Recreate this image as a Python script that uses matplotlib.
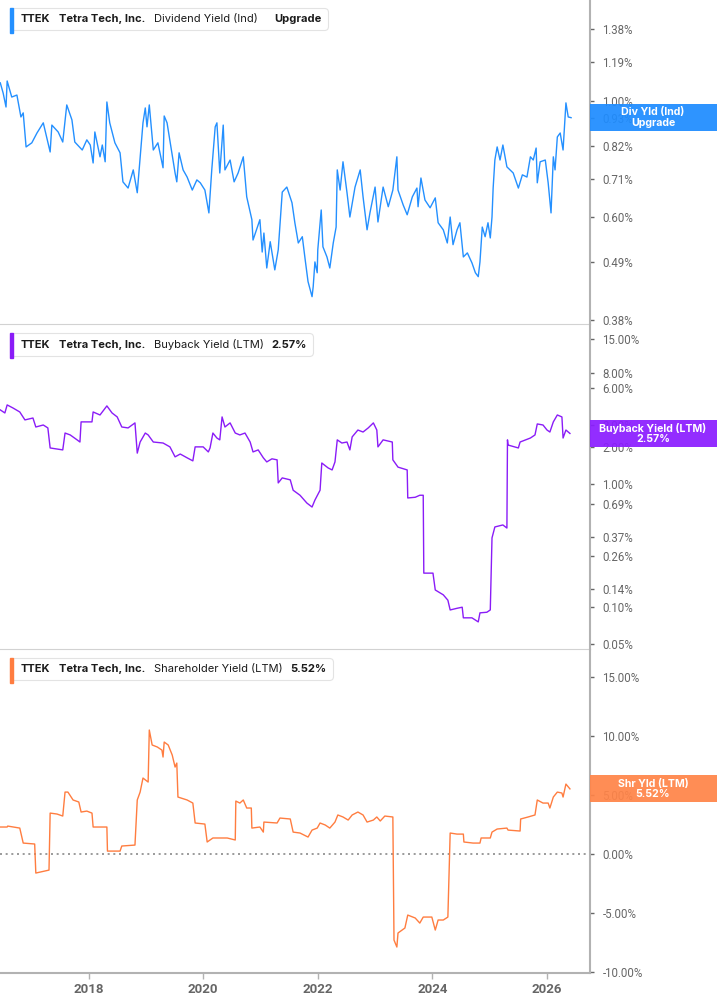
import matplotlib.pyplot as plt
from matplotlib.patches import Rectangle
from matplotlib.offsetbox import TextArea, HPacker, AnchoredOffsetbox, DrawingArea
from matplotlib.ticker import FixedLocator, NullLocator, FuncFormatter

# ---- data ----
div_years = [2016.46, 2016.51, 2016.56, 2016.58, 2016.66, 2016.75, 2016.82, 2016.86, 2016.91, 2017.01,
             2017.10, 2017.21, 2017.33, 2017.36, 2017.47, 2017.55, 2017.62, 2017.71, 2017.76, 2017.89,
             2017.97, 2018.03, 2018.08, 2018.11, 2018.20, 2018.24, 2018.29, 2018.32, 2018.37, 2018.46,
             2018.55, 2018.60, 2018.69, 2018.78, 2018.85, 2018.90, 2018.95, 2018.99, 2019.02, 2019.06,
             2019.13, 2019.21, 2019.30, 2019.32, 2019.37, 2019.44, 2019.51, 2019.54, 2019.58, 2019.65,
             2019.72, 2019.81, 2019.89, 2019.95, 2020.03, 2020.10, 2020.15, 2020.21, 2020.24, 2020.29,
             2020.35, 2020.38, 2020.47, 2020.54, 2020.61, 2020.70, 2020.76, 2020.85, 2020.87, 2020.99,
             2021.03, 2021.06, 2021.11, 2021.17, 2021.25, 2021.31, 2021.38, 2021.46, 2021.55, 2021.60,
             2021.66, 2021.73, 2021.78, 2021.83, 2021.90, 2021.92, 2021.95, 2021.99, 2022.00, 2022.06,
             2022.09, 2022.16, 2022.21, 2022.27, 2022.32, 2022.34, 2022.39, 2022.44, 2022.51, 2022.56,
             2022.65, 2022.74, 2022.79, 2022.86, 2022.91, 2023.00, 2023.05, 2023.14, 2023.23, 2023.31,
             2023.38, 2023.40, 2023.49, 2023.56, 2023.65, 2023.73, 2023.75, 2023.80, 2023.87, 2023.96,
             2024.05, 2024.10, 2024.19, 2024.26, 2024.31, 2024.36, 2024.43, 2024.48, 2024.54, 2024.61,
             2024.69, 2024.75, 2024.80, 2024.83, 2024.87, 2024.92, 2024.97, 2025.01, 2025.04, 2025.06,
             2025.09, 2025.13, 2025.18, 2025.23, 2025.30, 2025.41, 2025.50, 2025.57, 2025.65, 2025.71,
             2025.76, 2025.81, 2025.83, 2025.88, 2025.97, 2026.02, 2026.07, 2026.11, 2026.14, 2026.18,
             2026.23, 2026.28, 2026.33, 2026.37, 2026.42]
div_yield = [1.085, 1.037, 0.975, 1.094, 1.019, 1.028, 0.933, 0.950, 0.817, 0.832,
             0.869, 0.909, 0.799, 0.900, 0.873, 0.835, 0.984, 0.921, 0.835, 0.806,
             0.843, 0.824, 0.761, 0.873, 0.782, 0.824, 0.765, 0.997, 0.909, 0.832,
             0.796, 0.700, 0.681, 0.738, 0.667, 0.778, 0.909, 0.971, 0.893, 0.984,
             0.806, 0.832, 0.745, 0.937, 0.909, 0.813, 0.728, 0.700, 0.796, 0.738,
             0.715, 0.675, 0.706, 0.697, 0.675, 0.610, 0.738, 0.893, 0.909, 0.728,
             0.900, 0.738, 0.771, 0.700, 0.728, 0.782, 0.655, 0.592, 0.541, 0.592,
             0.513, 0.558, 0.478, 0.537, 0.474, 0.518, 0.669, 0.684, 0.638, 0.584,
             0.534, 0.549, 0.496, 0.450, 0.421, 0.440, 0.491, 0.468, 0.518, 0.618,
             0.525, 0.502, 0.478, 0.534, 0.573, 0.738, 0.675, 0.765, 0.667, 0.599,
             0.684, 0.738, 0.655, 0.566, 0.610, 0.684, 0.586, 0.684, 0.627, 0.675,
             0.782, 0.675, 0.632, 0.605, 0.655, 0.681, 0.627, 0.712, 0.646, 0.624,
             0.652, 0.584, 0.566, 0.534, 0.599, 0.530, 0.566, 0.584, 0.502, 0.511,
             0.489, 0.468, 0.460, 0.491, 0.573, 0.549, 0.584, 0.546, 0.599, 0.681,
             0.771, 0.817, 0.771, 0.824, 0.748, 0.728, 0.681, 0.722, 0.715, 0.782,
             0.771, 0.813, 0.697, 0.765, 0.771, 0.697, 0.610, 0.782, 0.738, 0.854,
             0.869, 0.806, 0.993, 0.933, 0.930]

bb_years = [2016.46, 2016.54, 2016.58, 2016.68, 2016.80, 2016.89, 2017.03, 2017.08, 2017.21, 2017.29,
            2017.33, 2017.55, 2017.59, 2017.68, 2017.80, 2017.85, 2017.87, 2018.06, 2018.08, 2018.20,
            2018.32, 2018.41, 2018.50, 2018.58, 2018.69, 2018.81, 2018.85, 2018.90, 2018.99, 2019.04,
            2019.13, 2019.30, 2019.42, 2019.51, 2019.60, 2019.72, 2019.82, 2019.86, 2020.00, 2020.09,
            2020.12, 2020.17, 2020.24, 2020.29, 2020.33, 2020.38, 2020.47, 2020.56, 2020.64, 2020.73,
            2020.82, 2020.87, 2020.96, 2021.05, 2021.11, 2021.20, 2021.29, 2021.31, 2021.38, 2021.52,
            2021.57, 2021.69, 2021.81, 2021.90, 2021.95, 2022.04, 2022.07, 2022.18, 2022.25, 2022.30,
            2022.34, 2022.42, 2022.51, 2022.56, 2022.60, 2022.70, 2022.79, 2022.88, 2022.97, 2023.03,
            2023.05, 2023.14, 2023.30, 2023.31, 2023.40, 2023.56, 2023.57, 2023.70, 2023.78, 2023.84,
            2023.85, 2024.01, 2024.05, 2024.19, 2024.27, 2024.31, 2024.43, 2024.52, 2024.54, 2024.69,
            2024.80, 2024.83, 2024.95, 2025.01, 2025.04, 2025.09, 2025.23, 2025.30, 2025.31, 2025.32,
            2025.50, 2025.53, 2025.71, 2025.79, 2025.83, 2025.93, 2026.00, 2026.05, 2026.11, 2026.18,
            2026.26, 2026.28, 2026.33, 2026.40]
bb_yield = [3.99, 3.77, 4.38, 4.14, 3.84, 3.31, 3.43, 2.90, 3.01, 2.85,
            1.96, 1.89, 2.59, 2.50, 2.28, 2.19, 3.19, 3.19, 3.84, 3.63,
            4.30, 3.77, 3.50, 2.90, 2.85, 3.13, 1.78, 2.19, 2.59, 2.50,
            2.19, 2.15, 2.00, 1.66, 1.75, 1.63, 1.54, 2.00, 2.00, 1.82,
            1.96, 2.59, 2.36, 2.28, 3.50, 2.90, 3.13, 2.59, 2.50, 2.59,
            2.19, 1.82, 1.89, 1.63, 1.51, 1.60, 1.57, 1.02, 1.12, 1.08,
            0.89, 0.81, 0.70, 0.65, 0.74, 0.89, 1.48, 1.35, 1.30, 1.51,
            2.28, 2.15, 2.19, 1.89, 2.41, 2.74, 2.64, 2.85, 3.13, 2.74,
            2.00, 2.28, 2.19, 1.57, 1.37, 1.30, 0.77, 0.78, 0.81, 0.81,
            0.189, 0.189, 0.138, 0.126, 0.114, 0.095, 0.098, 0.100, 0.082, 0.082,
            0.076, 0.090, 0.091, 0.095, 0.365, 0.448, 0.465, 0.439, 2.28, 2.07,
            1.96, 2.19, 2.36, 2.50, 3.07, 3.01, 2.74, 2.64, 3.19, 3.63,
            3.50, 2.36, 2.74, 2.57]

shr_years = [2016.46, 2016.58, 2016.59, 2016.80, 2016.86, 2017.06, 2017.08, 2017.31, 2017.33, 2017.45,
             2017.55, 2017.59, 2017.64, 2017.73, 2017.83, 2017.87, 2017.97, 2018.06, 2018.08, 2018.32,
             2018.33, 2018.55, 2018.58, 2018.81, 2018.85, 2018.90, 2018.95, 2019.04, 2019.06, 2019.11,
             2019.20, 2019.28, 2019.30, 2019.32, 2019.39, 2019.46, 2019.51, 2019.54, 2019.56, 2019.72,
             2019.82, 2019.86, 2020.03, 2020.07, 2020.17, 2020.42, 2020.56, 2020.57, 2020.64, 2020.70,
             2020.76, 2020.84, 2020.85, 2020.99, 2021.05, 2021.06, 2021.29, 2021.34, 2021.52, 2021.57,
             2021.69, 2021.83, 2021.90, 2021.99, 2022.04, 2022.13, 2022.21, 2022.30, 2022.35, 2022.44,
             2022.53, 2022.60, 2022.70, 2022.79, 2022.86, 2022.97, 2023.03, 2023.09, 2023.17, 2023.31,
             2023.33, 2023.38, 2023.40, 2023.52, 2023.57, 2023.70, 2023.78, 2023.84, 2023.99, 2024.05,
             2024.10, 2024.19, 2024.27, 2024.31, 2024.43, 2024.54, 2024.55, 2024.71, 2024.83, 2024.85,
             2025.01, 2025.04, 2025.13, 2025.30, 2025.32, 2025.53, 2025.54, 2025.67, 2025.79, 2025.83,
             2025.93, 2026.02, 2026.05, 2026.11, 2026.18, 2026.26, 2026.28, 2026.33, 2026.40]
shr_yield = [2.29, 2.29, 2.37, 2.20, 0.93, 0.85, -1.61, -1.36, 3.47, 3.39,
             3.22, 5.25, 5.25, 4.58, 4.41, 3.56, 3.64, 3.47, 2.29, 2.29,
             0.25, 0.25, 0.68, 0.76, 4.58, 5.25, 6.44, 6.10, 10.51, 9.24,
             9.07, 8.81, 8.22, 9.49, 9.24, 8.39, 7.37, 7.71, 4.83, 4.58,
             4.32, 2.63, 2.54, 1.02, 1.36, 1.36, 1.19, 4.49, 4.32, 4.58,
             3.90, 3.90, 2.20, 2.29, 1.86, 2.71, 2.63, 3.05, 2.97, 1.86,
             1.78, 1.44, 2.03, 2.20, 2.63, 2.46, 2.20, 2.71, 3.31, 3.14,
             2.88, 3.31, 3.56, 3.31, 2.71, 2.88, 3.14, 2.80, 3.22, 3.14,
             -7.29, -7.88, -6.69, -6.27, -5.17, -5.42, -5.85, -5.34, -5.34, -6.44,
             -5.59, -5.59, -5.34, 1.78, 1.69, 1.69, 1.02, 0.93, 0.93, 1.36,
             1.36, 1.86, 2.12, 2.20, 2.03, 1.95, 2.97, 3.14, 3.31, 4.58,
             4.32, 4.32, 3.90, 4.83, 5.25, 5.17, 4.83, 5.93, 5.52]

div_ticks = [0.38, 0.49, 0.60, 0.71, 0.82, 0.93, 1.00, 1.19, 1.38]
bb_ticks = [0.05, 0.10, 0.14, 0.26, 0.37, 0.69, 1.00, 2.00, 3.00, 6.00, 8.00, 15.00]
shr_ticks = [-10, -5, 0, 5, 10, 15]
year_ticks = [2018, 2020, 2022, 2024, 2026]

BLUE = '#2490ff'
PURPLE = '#8a1cf7'
ORANGE = '#ff7d40'

plt.rcParams['font.family'] = ['Roboto', 'DejaVu Sans']

W, H = 717, 1005
fig = plt.figure(figsize=(W / 100, H / 100), dpi=100)
RIGHT = 590


def axes_px(top, bottom):
    return fig.add_axes([0, 1 - bottom / H, RIGHT / W, (bottom - top) / H])


ax1 = axes_px(0, 324)
ax2 = axes_px(325, 649)
ax3 = axes_px(650, 973)

pct = FuncFormatter(lambda v, _: f"{v:.2f}%")

ax1.plot(div_years, div_yield, color=BLUE, lw=1.0)
ax1.set_yscale('log')
ax1.set_ylim(0.373, 1.566)
ax1.yaxis.set_major_locator(FixedLocator(div_ticks))

ax2.plot(bb_years, bb_yield, color=PURPLE, lw=1.0)
ax2.set_yscale('log')
ax2.set_ylim(0.0458, 19.5)
ax2.yaxis.set_major_locator(FixedLocator(bb_ticks))

ax3.plot(shr_years, shr_yield, color=ORANGE, lw=1.0)
ax3.axhline(0, color='#8a8a8a', lw=1.2, ls=(0, (1.2, 2.2)), zorder=0)
ax3.set_ylim(-10.08, 17.29)
ax3.yaxis.set_major_locator(FixedLocator(shr_ticks))

for ax in (ax1, ax2, ax3):
    ax.spines['left'].set_visible(False)
    ax.spines['top'].set_visible(False)
    ax.spines['right'].set_color('#b2b2b2')
    ax.spines['right'].set_linewidth(1.5)
    ax.spines['bottom'].set_color('#d2d2d2')
    ax.set_xlim(2016.455, 2026.75)
    ax.yaxis.tick_right()
    ax.yaxis.set_minor_locator(NullLocator())
    ax.yaxis.set_major_formatter(pct)
    ax.tick_params(axis='y', length=3, width=1, color='#666666', labelsize=8.3,
                   labelcolor='#666666', pad=6)
    ax.set_facecolor('none')

for ax in (ax1, ax2):
    ax.tick_params(axis='x', bottom=False, labelbottom=False)

ax3.spines['bottom'].set_color('#b2b2b2')
ax3.spines['bottom'].set_linewidth(1.5)
ax3.set_xticks(year_ticks)
ax3.set_xticklabels([str(y) for y in year_ticks], fontweight='bold', color='#666666', fontsize=9.5)
ax3.tick_params(axis='x', length=4, width=1, color='#b2b2b2', pad=3)


# ---- legend boxes top-left ----
def legend_box(top_px, parts, color):
    kids = []
    for s, w in parts:
        if s is None:
            kids.append(DrawingArea(0.5, 1))
            continue
        kids.append(TextArea(s, textprops=dict(fontsize=8.0, fontweight=w, color='#1b1b1b',
                                              family=['Inter', 'DejaVu Sans'])))
    row = HPacker(children=kids, align='baseline', pad=0, sep=6.0)
    outer = HPacker(children=[DrawingArea(3.5, 1), row], align='center', pad=0, sep=0)
    ab = AnchoredOffsetbox(loc='upper left', child=outer, pad=0.45, borderpad=0, frameon=True,
                           bbox_to_anchor=(10 / W, 1 - top_px / H),
                           bbox_transform=fig.transFigure)
    ab.patch.set_boxstyle('round,pad=0,rounding_size=0.3')
    ab.patch.set_edgecolor('#e3e3e3')
    ab.patch.set_linewidth(0.8)
    ab.patch.set_facecolor('white')
    ab.set_zorder(4)
    fig.add_artist(ab)
    fig.add_artist(Rectangle((10 / W, 1 - (top_px + 25) / H), 3.3 / W, 25 / H,
                             transform=fig.transFigure, color=color, zorder=5))


legend_box(8, [('TTEK', 'bold'), ('Tetra Tech, Inc.', 'bold'), ('Dividend Yield (Ind)', 'normal'),
               (None, None), ('Upgrade', 'bold')], BLUE)
legend_box(333, [('TTEK', 'bold'), ('Tetra Tech, Inc.', 'bold'), ('Buyback Yield (LTM)', 'normal'),
                 ('2.57%', 'bold')], PURPLE)
legend_box(658, [('TTEK', 'bold'), ('Tetra Tech, Inc.', 'bold'),
                 ('Shareholder Yield (LTM)', 'normal'), ('5.52%', 'bold')], ORANGE)


# ---- last-value tags on the right axis ----
def value_tag(ax, last_x, last_y, text, color):
    yd = ax.transData.transform((last_x, last_y))[1]
    fig.add_artist(Rectangle((RIGHT / W, (yd - 13.5) / H), (W - RIGHT) / W, 27 / H,
                             transform=fig.transFigure, color=color, alpha=0.93, zorder=5, lw=0))
    fig.text(653 / W, yd / H, text, ha='center', va='center', color='white', fontweight='bold',
             fontsize=7.6, linespacing=1.05, family=['Inter', 'DejaVu Sans'], zorder=6)


value_tag(ax1, div_years[-1], div_yield[-1], 'Div Yld (Ind)\nUpgrade', '#1e8cff')
value_tag(ax2, bb_years[-1], bb_yield[-1], 'Buyback Yield (LTM)\n2.57%', '#8b1dff')
value_tag(ax3, shr_years[-1], shr_yield[-1], 'Shr Yld (LTM)\n5.52%', '#ff8448')

fig.savefig('out.png', dpi=100)
